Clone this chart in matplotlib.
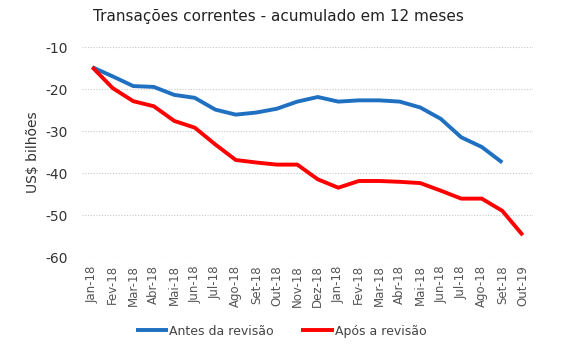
import matplotlib
matplotlib.use("Agg")
import matplotlib.pyplot as plt

categories = ["Jan-18", "Fev-18", "Mar-18", "Abr-18", "Mai-18", "Jun-18", "Jul-18",
              "Ago-18", "Set-18", "Out-18", "Nov-18", "Dez-18", "Jan-18", "Fev-18",
              "Mar-18", "Abr-18", "Mai-18", "Jun-18", "Jul-18", "Ago-18", "Set-18", "Out-19"]

antes = [-14.8, -17.0, -19.3, -19.5, -21.4, -22.1, -24.9, -26.1, -25.6, -24.7, -23.0,
         -21.9, -23.0, -22.7, -22.7, -23.0, -24.4, -27.1, -31.5, -33.8, -37.5]
apos = [-14.8, -19.8, -22.9, -24.1, -27.6, -29.2, -33.2, -36.9, -37.5, -38.0, -38.0,
        -41.5, -43.5, -41.9, -41.9, -42.1, -42.4, -44.2, -46.1, -46.1, -49.0, -54.8]

yticks = [-10, -20, -30, -40, -50, -60]

fig = plt.figure(figsize=(5.68, 3.6), dpi=100)
ax = fig.add_axes([0.1444, 0.2861, 0.794, 0.5833])

x_antes = list(range(len(antes)))
x_apos = list(range(len(apos)))
ax.plot(x_antes, antes, color="#1F70C1", lw=2.8, solid_capstyle="butt", label="Antes da revisão", zorder=3)
ax.plot(x_apos, apos, color="#FF0000", lw=2.8, solid_capstyle="butt", label="Após a revisão", zorder=3)

ax.set_xlim(-0.5, len(categories) - 0.5)
ax.set_ylim(-60, -10)
ax.set_yticks(yticks)
ax.set_yticklabels([str(v) for v in yticks], fontsize=10, color="#333333")
ax.set_xticks(range(len(categories)))
ax.set_xticklabels(categories, rotation=90, fontsize=8.5, color="#555555")
ax.tick_params(axis="both", length=0, pad=6)
ax.tick_params(axis="y", pad=10)

ax.grid(axis="y", color="#C8C8C8", linestyle=(0, (1, 1.5)), lw=0.8)
for s in ["top", "right", "left", "bottom"]:
    ax.spines[s].set_visible(False)

ax.set_ylabel("US$ bilhões", fontsize=10, color="#333333", labelpad=4)
fig.text(0.49, 0.955, "Transações correntes - acumulado em 12 meses", ha="center", va="center",
         fontsize=11, color="#222222")

fig.legend(loc="center", bbox_to_anchor=(0.495, 0.08), ncol=2, frameon=False,
           fontsize=9, handlelength=2.6, handletextpad=0.1, columnspacing=2.2,
           labelcolor="#444444")

fig.savefig("out.png", dpi=100)
